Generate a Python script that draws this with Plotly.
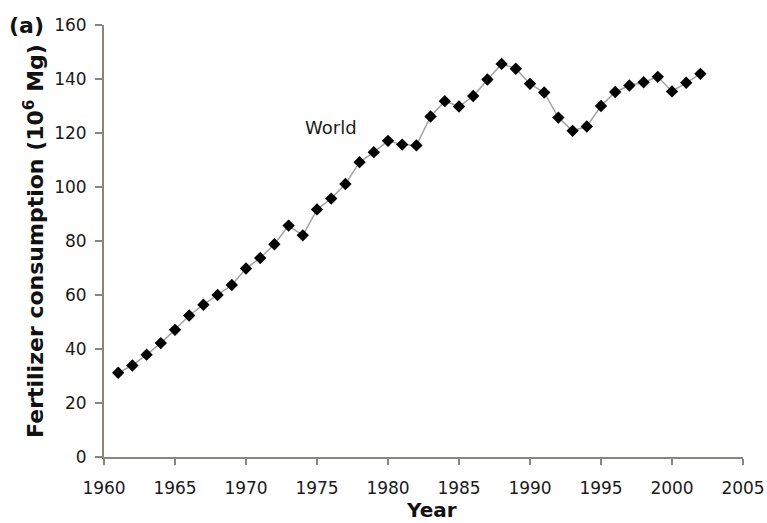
import plotly.graph_objects as go

# World fertilizer consumption, 10^6 Mg per year
years = list(range(1961, 2003))
consumption = [
    31.2, 33.9, 37.9, 42.2, 47.1, 52.4, 56.4, 60.0, 63.7, 69.8,
    73.7, 78.8, 85.7, 82.1, 91.7, 95.7, 101.1, 109.2, 112.9, 117.1,
    115.7, 115.4, 126.1, 131.8, 129.8, 133.7, 139.8, 145.6, 143.8, 138.2,
    135.0, 125.7, 120.8, 122.4, 130.0, 135.2, 137.6, 138.8, 140.8, 135.4,
    138.6, 141.9,
]

x_ticks = list(range(1960, 2010, 5))
y_ticks = list(range(0, 180, 20))

axis_color = "#8c8480"
font_family = "DejaVu Sans"

fig = go.Figure()
fig.add_trace(go.Scatter(
    x=years,
    y=consumption,
    mode="lines+markers",
    line=dict(color="#a3a3a3", width=1.5),
    marker=dict(symbol="diamond", size=9.5, color="black"),
    showlegend=False,
))

# series label
fig.add_annotation(
    x=1976.0, y=122.1, text="World", showarrow=False,
    font=dict(family=font_family, size=18, color="#1a1a1a"),
)
# panel letter
fig.add_annotation(
    xref="paper", yref="paper", x=-0.121, y=1.0, xanchor="center", yanchor="middle",
    text="<b>(a)</b>", showarrow=False,
    font=dict(family=font_family, size=22, color="#111111"),
)
# x-axis title
fig.add_annotation(
    xref="paper", yref="paper", x=0.513, y=-0.122, xanchor="center", yanchor="middle",
    text="<b>Year</b>", showarrow=False,
    font=dict(family=font_family, size=20, color="#111111"),
)

fig.update_layout(
    width=767, height=523,
    margin=dict(l=104, r=24, t=25, b=66, autoexpand=False),
    paper_bgcolor="white",
    plot_bgcolor="white",
    font=dict(family=font_family, size=17, color="#1a1a1a"),
    xaxis=dict(
        range=[1960, 2005],
        tickmode="array", tickvals=x_ticks,
        showgrid=False, zeroline=False,
        showline=True, linecolor=axis_color, linewidth=2,
        ticks="outside", ticklen=6, tickwidth=1.5, tickcolor=axis_color,
        tickfont=dict(size=17),
        ticklabelstandoff=9,
        automargin=False,
    ),
    yaxis=dict(
        range=[0, 160],
        tickmode="array", tickvals=y_ticks,
        showgrid=False, zeroline=False,
        showline=True, linecolor=axis_color, linewidth=2,
        ticks="outside", ticklen=7, tickwidth=1.5, tickcolor=axis_color,
        tickfont=dict(size=17),
        ticklabelstandoff=5,
        automargin=False,
        title=dict(text="<b>Fertilizer consumption (10<sup>6</sup> Mg)</b>",
                   font=dict(size=22, color="#111111"), standoff=4),
    ),
)

fig.write_html("out.html")
